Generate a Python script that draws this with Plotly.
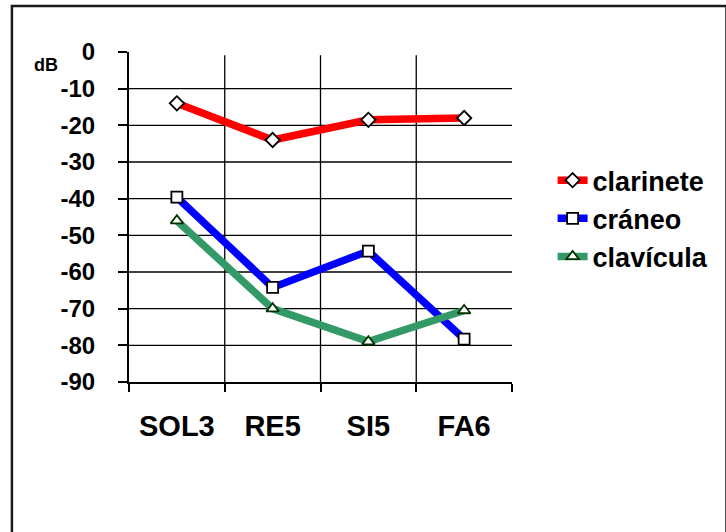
import plotly.graph_objects as go

# Notes and measured levels (dB)
categories = ["SOL3", "RE5", "SI5", "FA6"]
clarinete = [-14, -24, -18.5, -18]
craneo = [-39.6, -64.2, -54.3, -78.3]
clavicula = [-46, -70, -79, -70.5]
y_ticks = [0, -10, -20, -30, -40, -50, -60, -70, -80, -90]

FONT = "Liberation Sans, Arial, sans-serif"

series = [
    ("clarinete", clarinete, "#FF0000", "diamond", "#000000"),
    ("cráneo", craneo, "#0000FF", "square", "#000000"),
    ("clavícula", clavicula, "#339966", "triangle-up", "#003300"),
]

fig = go.Figure()
for name, vals, color, symbol, edge in series:
    fig.add_trace(go.Scatter(
        x=categories, y=vals, name=name, mode="lines+markers",
        line=dict(color=color, width=7.5),
        marker=dict(symbol=symbol, size=11, color="white",
                    line=dict(color=edge, width=1.8)),
    ))

shapes = []
# horizontal grid lines at the inner tick values
for v in y_ticks[1:-1]:
    shapes.append(dict(type="line", xref="paper", yref="y", x0=0, x1=1,
                       y0=v, y1=v, line=dict(color="black", width=1.3),
                       layer="below"))
# vertical grid lines between categories
for i in range(len(categories) - 1):
    shapes.append(dict(type="line", xref="x", yref="paper", x0=i + 0.5,
                       x1=i + 0.5, y0=0, y1=0.99,
                       line=dict(color="black", width=1.3), layer="below"))
# chart frame
shapes.append(dict(type="rect", xref="paper", yref="paper",
                   x0=-0.3057, x1=1.56, y0=-0.47, y1=1.1394,
                   line=dict(color="#1a1a1a", width=2.5)))

fig.update_layout(
    width=726, height=532,
    margin=dict(l=129, r=211, t=52, b=150),
    paper_bgcolor="white", plot_bgcolor="white",
    font=dict(family=FONT, color="black"),
    shapes=shapes,
    showlegend=True,
    legend=dict(x=1.106, y=0.495, xanchor="left", yanchor="middle",
                font=dict(family=FONT, size=27, color="black",
                          weight="bold"),
                bgcolor="rgba(0,0,0,0)", tracegroupgap=0),
    annotations=[dict(text="dB", xref="paper", yref="paper",
                      x=-0.254, y=0.96, xanchor="left", yanchor="middle",
                      showarrow=False,
                      font=dict(family=FONT, size=18, color="black",
                                weight="bold"))],
)

fig.update_xaxes(
    type="category", range=[-0.5, len(categories) - 0.5],
    tickson="boundaries", ticks="outside", ticklen=8, tickwidth=1.5,
    tickcolor="black", showline=True, linecolor="black", linewidth=2,
    showgrid=False, zeroline=False, ticklabelstandoff=17,
    tickfont=dict(family=FONT, size=29, color="black", weight="bold"),
)
fig.update_yaxes(
    range=[-90, 0], tickvals=y_ticks, ticktext=[str(v) for v in y_ticks],
    ticks="outside", ticklen=9, tickwidth=1.5, tickcolor="black",
    showline=True, linecolor="black", linewidth=2, showgrid=False,
    zeroline=False, ticklabelstandoff=18,
    tickfont=dict(family=FONT, size=24, color="black", weight="bold"),
)

fig.write_html("out.html")
